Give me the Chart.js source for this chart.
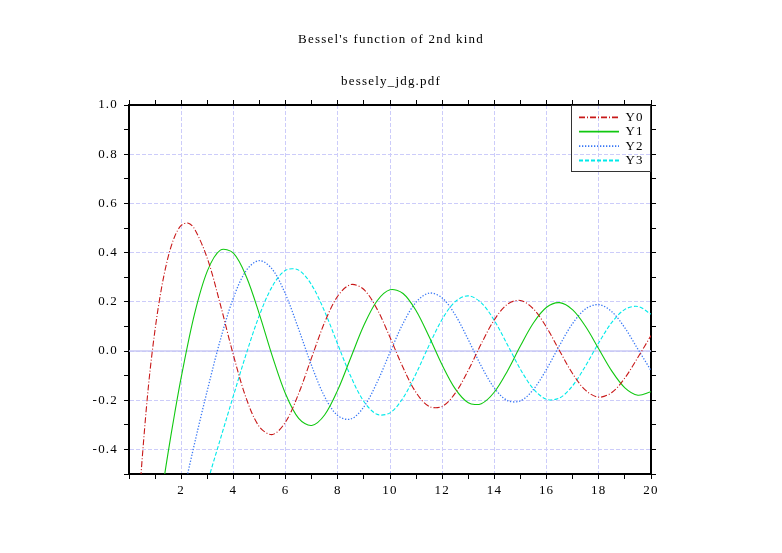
<!DOCTYPE html>
<html>
<head>
<meta charset="utf-8">
<script src="https://cdn.jsdelivr.net/npm/chart.js@4/dist/chart.umd.min.js"></script>
<style>
html,body{margin:0;padding:0;background:#fff;}
#wrap{width:782px;height:553px;position:relative;}
</style>
</head>
<body>
<div id="wrap"><canvas id="c"></canvas></div>
<script>
// ---- data ----
const xs = [0.4,0.5,0.75,1,1.25,1.5,1.75,2,2.25,2.5,3,3.5,4,4.5,5,5.5,6,6.5,7,7.5,8,8.5,9,9.5,10,10.5,11,11.5,12,12.5,13,13.5,14,14.5,15,15.5,16,16.5,17,17.5,18,18.5,19,19.5,20];
const y0 = [-0.6060,-0.4445,-0.1372,0.0883,0.2582,0.3824,0.4655,0.5104,0.5201,0.4981,0.3769,0.1890,-0.0169,-0.1947,-0.3085,-0.3395,-0.2882,-0.1732,-0.0260,0.1173,0.2235,0.2702,0.2499,0.1712,0.0557,-0.0675,-0.1689,-0.2252,-0.2252,-0.1712,-0.0781,0.0301,0.1272,0.1903,0.2055,0.1706,0.0958,0.0002,-0.0926,-0.1604,-0.1876,-0.1687,-0.1095,-0.0255,0.0626];
const y1 = [null,null,null,-0.7812,-0.5844,-0.4123,-0.2540,-0.1070,null,0.1459,0.3247,0.4102,0.3979,0.3010,0.1479,-0.0238,-0.1750,-0.2741,-0.3027,-0.2591,-0.1581,-0.0262,0.1043,0.2032,0.2490,0.2337,0.1637,0.0579,-0.0571,-0.1538,-0.2101,-0.2140,-0.1667,-0.0810,0.0211,0.1148,0.1779,0.1965,0.1672,0.0986,0.0082,-0.0817,-0.1496,-0.1796,-0.1655];
const y2 = [null,null,null,null,null,null,null,-0.6174,null,-0.3813,-0.1604,0.0454,0.2159,0.3285,0.3677,0.3308,0.2299,0.0889,-0.0605,-0.1864,-0.2630,-0.2764,-0.2268,-0.1284,-0.0059,0.1120,0.1986,0.2353,0.2157,0.1466,0.0458,-0.0618,-0.1510,-0.2015,-0.2027,-0.1558,-0.0736,0.0236,0.1123,0.1717,0.1885,0.1598,0.0938,0.0070,-0.0791];
const y3 = [null,null,null,null,null,null,null,null,null,-0.7561,-0.5385,-0.3583,-0.1820,-0.0090,0.1463,0.2644,0.3282,0.3288,0.2681,0.1597,0.0265,-0.1039,-0.2051,-0.2573,-0.2514,-0.1910,-0.0915,0.0239,0.1290,0.2008,0.2242,0.1957,0.1235,0.0255,-0.0751,-0.1550,-0.1963,-0.1907,-0.1408,-0.0593,0.0337,0.1163,0.1693,0.1810,0.1497];
const seriesNames = ['Y0','Y1','Y2','Y3'];
const zeroLineX = [0, 20];
const xTickLabels = ['2','4','6','8','10','12','14','16','18','20'];
const yTickLabels = ['-0.4','-0.2','0.0','0.2','0.4','0.6','0.8','1.0'];

// ---- styles ----
const FONT = "'Liberation Serif', 'Times New Roman', serif";
const GRID = 'rgb(204,204,250)';
const ZERO = 'rgb(200,200,245)';
const colors = ['#c81818', '#10c810', '#3a78f5', '#00eaea'];
const widths = [1.1, 1.1, 1.3, 1.1];
const dashes = [[6,2,1,2], [], [1.3,1.7], [4,2]];

function pts(arr){ return xs.map((x,i)=>({x:x, y:arr[i]})); }
const seriesData = [y0, y1, y2, y3];

const datasets = seriesData.map((arr,i)=>({
  label: seriesNames[i],
  data: pts(arr),
  borderColor: colors[i],
  backgroundColor: colors[i],
  borderWidth: widths[i],
  borderDash: dashes[i],
  pointRadius: 0,
  tension: 0.33,
  spanGaps: true,
  fill: false,
  order: 1
}));
datasets.push({
  label: 'zero',
  data: zeroLineX.map(x=>({x:x, y:0})),
  borderColor: ZERO,
  borderWidth: 1.6,
  pointRadius: 0,
  fill: false,
  order: 5
});

const spacingPlugin = {
  id: 'spacing',
  beforeDraw(chart){ chart.ctx.letterSpacing = '1.2px'; }
};
const legendPlacer = {
  id: 'legendPlacer',
  afterLayout(chart){
    const lg = chart.legend; if (!lg) return;
    const ca = chart.chartArea;
    lg.left = ca.right - 73.4; lg.right = ca.right;
    lg.top = ca.top + 4.4; lg.bottom = ca.bottom;
    lg.width = lg.right - lg.left; lg.height = lg.bottom - lg.top;
  }
};
const legendFrame = {
  id: 'legendFrame',
  afterDraw(chart){
    const ca = chart.chartArea, ctx = chart.ctx;
    ctx.save();
    ctx.strokeStyle = '#333';
    ctx.lineWidth = 1;
    ctx.setLineDash([]);
    ctx.strokeRect(ca.right - 79.5, ca.top + 0.5, 79, 66);
    ctx.restore();
  }
};

const xLabel = v => { const s = String(Math.round(v)); return xTickLabels.includes(s) && Math.abs(v-Math.round(v))<1e-9 ? s : ''; };
const yLabel = v => { const s = (Math.round(v*10)/10).toFixed(1); const t = (s === '-0.0') ? '0.0' : s; return yTickLabels.includes(t) && Math.round(v*10)%2===0 ? t : ''; };
const isMajorX = v => Math.round(v) % 2 === 0;
const isMajorY = v => Math.round(v*10) % 2 === 0;

new Chart(document.getElementById('c'), {
  type: 'line',
  data: { datasets: datasets },
  options: {
    responsive: true,
    maintainAspectRatio: false,
    animation: false,
    layout: { padding: 0 },
    scales: {
      x: {
        type: 'linear', position: 'bottom', min: 0, max: 20,
        ticks: { stepSize: 1, autoSkip: false, maxRotation: 0, color: '#000', padding: 4,
                 font: { family: FONT, size: 13 }, callback: v => xLabel(v) },
        grid: { color: c => (c.tick && isMajorX(c.tick.value)) ? GRID : 'rgba(0,0,0,0)',
                tickColor: '#000', tickLength: 5, lineWidth: 1 },
        border: { color: '#000', width: 2, dash: [4,2] },
        afterFit: s => { s.height = 79; }
      },
      x2: {
        type: 'linear', position: 'top', min: 0, max: 20,
        ticks: { stepSize: 1, autoSkip: false, display: false },
        grid: { drawOnChartArea: false, tickColor: '#000', tickLength: 5 },
        border: { color: '#000', width: 2 },
        afterFit: s => { s.height = 15.2; }
      },
      y: {
        type: 'linear', position: 'left', min: -0.5, max: 1.0,
        ticks: { stepSize: 0.1, autoSkip: false, color: '#000', padding: 6,
                 font: { family: FONT, size: 13 }, callback: v => yLabel(v) },
        grid: { color: c => (c.tick && isMajorY(c.tick.value)) ? GRID : 'rgba(0,0,0,0)',
                tickColor: '#000', tickLength: 5, lineWidth: 1 },
        border: { color: '#000', width: 2, dash: [4,2] },
        afterFit: s => { s.width = 129; }
      },
      y2: {
        type: 'linear', position: 'right', min: -0.5, max: 1.0,
        ticks: { stepSize: 0.1, autoSkip: false, display: false },
        grid: { drawOnChartArea: false, tickColor: '#000', tickLength: 5 },
        border: { color: '#000', width: 2 },
        afterFit: s => { s.width = 131; }
      }
    },
    plugins: {
      title: { display: true, text: "Bessel's function of 2nd kind", color: '#000',
               font: { family: FONT, size: 13, weight: 'normal', lineHeight: 1.2 },
               padding: { top: 32.2, bottom: 0 } },
      subtitle: { display: true, text: 'bessely_jdg.pdf', color: '#000',
               font: { family: FONT, size: 13, weight: 'normal', lineHeight: 1.2 },
               padding: { top: 26.4, bottom: 0 } },
      legend: {
        position: 'chartArea', align: 'start',
        labels: {
          usePointStyle: true, pointStyle: 'line', pointStyleWidth: 40,
          padding: 1.4, color: '#000', font: { family: FONT, size: 13 },
          generateLabels: chart => chart.data.datasets
            .map((ds,i)=>({ text: ds.label, fillStyle: ds.borderColor, strokeStyle: ds.borderColor,
                            fontColor: '#000', lineWidth: 1.8, lineDash: ds.borderDash || [],
                            pointStyle: 'line', hidden: false, datasetIndex: i }))
            .filter(l => seriesNames.includes(l.text))
        }
      },
      tooltip: { enabled: false }
    }
  },
  plugins: [spacingPlugin, legendPlacer, legendFrame]
});
</script>
</body>
</html>
